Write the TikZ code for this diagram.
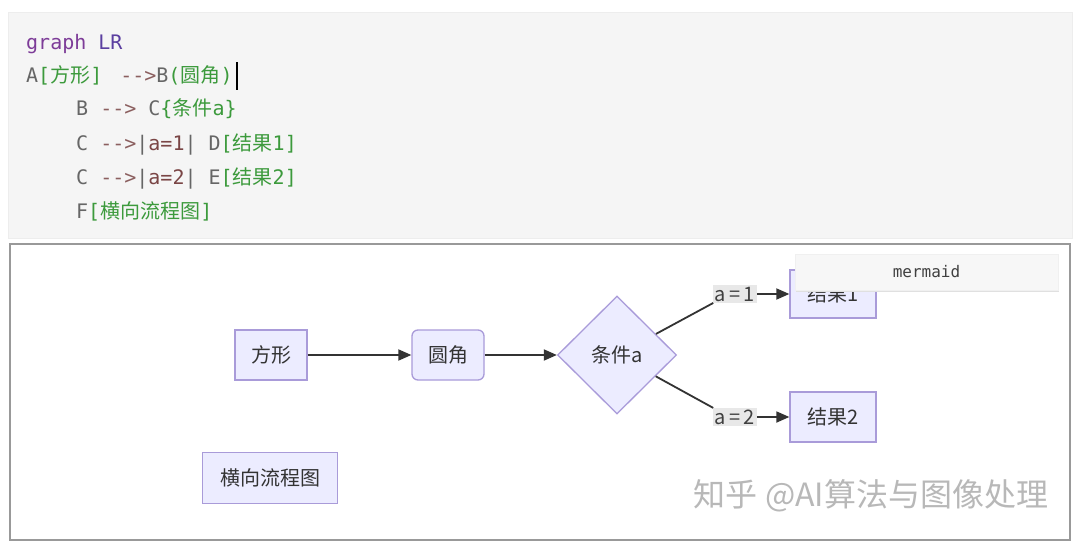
\documentclass[tikz,border=0pt]{standalone}
\usepackage{fontspec}
\setmainfont{Noto Sans}
\newfontfamily\cjk{Noto Sans CJK SC}
\newfontfamily\codefont{DejaVu Sans Mono}
\usetikzlibrary{shapes.geometric,arrows.meta}
\definecolor{kwpurple}{HTML}{7D3C98}
\definecolor{kwblue}{HTML}{5B3FA0}
\definecolor{idgrey}{HTML}{666666}
\definecolor{arrbrown}{HTML}{8B5F5F}
\definecolor{txtgreen}{HTML}{3C9A3C}
\definecolor{lblred}{HTML}{7A4545}
\definecolor{nodefill}{HTML}{ECECFF}
\definecolor{nodeline}{HTML}{A99BD9}
\definecolor{edgecol}{HTML}{333333}
\newcommand{\gr}[1]{\textcolor{txtgreen}{#1}}
\newcommand{\gcj}[1]{\textcolor{txtgreen}{{\cjk #1}}}
\newcommand{\ar}{\textcolor{arrbrown}{-->}}
\newcommand{\idc}[1]{\textcolor{idgrey}{#1}}
\tikzset{
  codeline/.style={anchor=base west, inner sep=0pt, font=\codefont\fontsize{20}{24}\selectfont},
  flowbox/.style={draw=nodeline, fill=nodefill, line width=1.3pt, inner sep=0pt,
     font=\cjk\fontsize{20}{23}\selectfont, text=black!80},
  flowdia/.style={flowbox, diamond, aspect=1, minimum width=119pt, minimum height=118pt},
  edgelbl/.style={fill=black!9, inner sep=1.5pt, font=\cjk\fontsize{20}{22}\selectfont, text=black!75},
  edge/.style={draw=edgecol, line width=1.8pt},
  arr/.style={edge, -{Triangle[length=13pt,width=11pt]}}
}
\begin{document}
\begin{tikzpicture}[x=1pt,y=-1pt]
\useasboundingbox (0,0) rectangle (1080,560);
\fill[white] (0,0) rectangle (1080,560);
% code block
\draw[draw=black!7, fill=black!4] (8,12) rectangle (1072,238);
\node[codeline] (l1) at (26,49) {\textcolor{kwpurple}{graph} \textcolor{kwblue}{LR}};
\node[codeline] (l2) at (26,82) {\idc{A}\gr{[}\gcj{方形}\gr{]}\hspace{18pt}\ar\idc{B}\gr{(}\gcj{圆角}\gr{)}};
\node[codeline] (l3) at (76,115) {\idc{B} \ar{} \idc{C}\gr{\{}\gcj{条件}\gr{a\}}};
\node[codeline] (l4) at (76,150) {\idc{C} \ar\idc{|}\textcolor{lblred}{a=1}\idc{|} \idc{D}\gr{[}\gcj{结果}\gr{1]}};
\node[codeline] (l5) at (76,184) {\idc{C} \ar\idc{|}\textcolor{lblred}{a=2}\idc{|} \idc{E}\gr{[}\gcj{结果}\gr{2]}};
\node[codeline] (l6) at (76,218) {\idc{F}\gr{[}\gcj{横向流程图}\gr{]}};
\draw[line width=1.4pt] (237,62) -- (237,90);
% diagram frame
\draw[draw=black!40, line width=1.5pt, fill=white] (10,244) rectangle (1070,540);
% nodes
\node[flowbox, minimum width=72pt, minimum height=50pt] (A) at (271,355) {方形};
\node[flowbox, rounded corners=6pt, minimum width=72pt, minimum height=50pt] (B) at (448,355) {圆角};
\node[flowdia] (C) at (617,355) {条件a};
\node[flowbox, minimum width=86pt, minimum height=48pt] (D) at (833,294) {结果1};
\node[flowbox, minimum width=86pt, minimum height=50pt] (E) at (833,417) {结果2};
\node[flowbox, minimum width=135pt, minimum height=51pt] (F) at (270,478) {横向流程图};
\node[edgelbl] (la) at (735,294) {a\,=\,1};
\node[edgelbl] (lb) at (735,417) {a\,=\,2};
% edges
\draw[arr] (A) -- (B);
\draw[arr] (B) -- (C);
\draw[edge] (C) -- (la.south west);
\draw[edge] (C) -- (lb.north west);
\draw[arr] (la) -- (D);
\draw[arr] (lb) -- (E);
% popup
\fill[black!12] (796,256) rectangle (1059,292);
\node[draw=black!6, fill=black!3, minimum width=263pt, minimum height=36pt, inner sep=0pt,
  font=\codefont\fontsize{16}{18}\selectfont, text=black!75] (pop) at (926.5,272) {mermaid};
% watermark
\node[inner sep=0pt, font=\cjk\fontsize{32}{36}\selectfont, text=black!28] (wm) at (871,496) {知乎 @AI算法与图像处理};
\end{tikzpicture}
\end{document}
